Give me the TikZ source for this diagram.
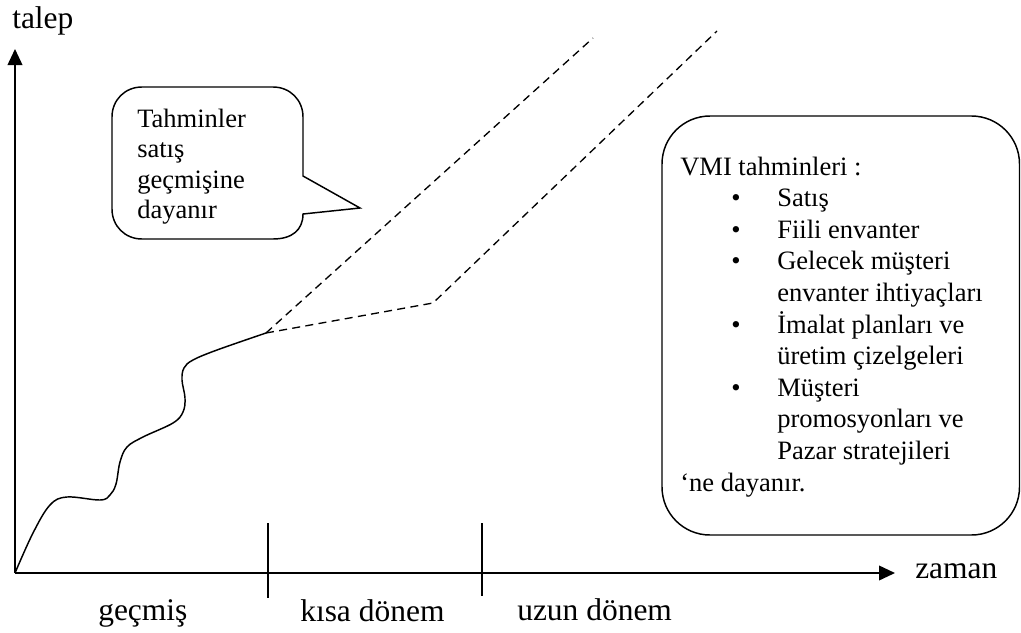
\documentclass[tikz,border=0pt]{standalone}
\usepackage{fontspec}
\setmainfont{Liberation Serif}
\usetikzlibrary{arrows.meta}
\tikzset{
  axis/.style={line width=1.3pt, -{Triangle[length=12pt,width=11pt]}},
  tick/.style={line width=1.1pt},
  outline/.style={line width=1.1pt},
  forecast/.style={line width=1pt, dash pattern=on 6pt off 4pt},
  history/.style={line width=1.1pt},
  axislabel/.style={inner sep=0pt, anchor=base west, font=\fontsize{23.6}{27}\selectfont},
  boxline/.style={inner sep=0pt, anchor=base west, font=\fontsize{19.9}{23}\selectfont},
}
\begin{document}
\begin{tikzpicture}[x=0.75pt, y=-0.75pt]
\useasboundingbox (0,0) rectangle (1021,632);

% axes
\coordinate (O) at (15,573);
\coordinate (ytip) at (15,49);
\coordinate (xtip) at (895,573);
\draw[axis] (O) -- (ytip);
\draw[axis] (O) -- (xtip);
\node[axislabel] (talep) at (12,28) {talep};
\node[axislabel] (zaman) at (915,578) {zaman};

% period boundaries
\coordinate (t1a) at (268,523); \coordinate (t1b) at (268,598);
\coordinate (t2a) at (482,523); \coordinate (t2b) at (482,596);
\draw[tick] (t1a) -- (t1b);
\draw[tick] (t2a) -- (t2b);
\node[axislabel] (gecmis) at (98,620) {geçmiş};
\node[axislabel] (kisa) at (300,621) {kısa dönem};
\node[axislabel] (uzun) at (517,620) {uzun dönem};

% sales history
\coordinate (now) at (266,333);
\draw[history] plot[smooth, tension=0.6] coordinates {
  (15,573) (33,533) (50,505) (67,497) (100,500) (110,495) (116,484)
  (120,462) (127,447) (143,437) (173,423) (183,412) (185,398)
  (182,380) (184,368) (193,360) (217,350) (266,333)};

% forecast lines
\coordinate (up) at (593,38);
\coordinate (knee) at (433,303);
\coordinate (far) at (717,31);
\draw[forecast] (now) -- (up);
\draw[forecast] (now) -- (knee) -- (far);

% speech bubble
\draw[outline] (142,87) -- (273,87) .. controls (290,87) and (303,100) .. (303,117)
  -- (303,176) -- (360,208) -- (303,214)
  .. controls (303,230) and (292,239) .. (273,239) -- (142,239)
  .. controls (125,239) and (112,226) .. (112,209) -- (112,117)
  .. controls (112,100) and (125,87) .. (142,87) -- cycle;
\node[boxline] (b1) at (137,127) {Tahminler};
\node[boxline] (b2) at (137,157.5) {satış};
\node[boxline] (b3) at (137,188) {geçmişine};
\node[boxline] (b4) at (137,218.5) {dayanır};

% VMI box
\draw[outline, rounded corners=36pt] (662,116) rectangle (1019.5,535);
\node[boxline] (v0) at (680,175) {VMI tahminleri :};
\foreach \y/\t [count=\i] in {206.6/Satış, 238.2/Fiili envanter, 269.8/Gelecek müşteri,
  301.4/envanter ihtiyaçları, 333/İmalat planları ve, 364.6/üretim çizelgeleri,
  396.2/Müşteri, 427.8/promosyonları ve, 459.4/Pazar stratejileri}{
  \node[boxline] (v\i) at (777,\y) {\t};
}
\foreach \y [count=\i] in {206.6, 238.2, 269.8, 333, 396.2}{
  \node[boxline] (bul\i) at (731,\y) {\textbullet};
}
\node[boxline] (v10) at (680,491) {‘ne dayanır.};
\end{tikzpicture}
\end{document}
